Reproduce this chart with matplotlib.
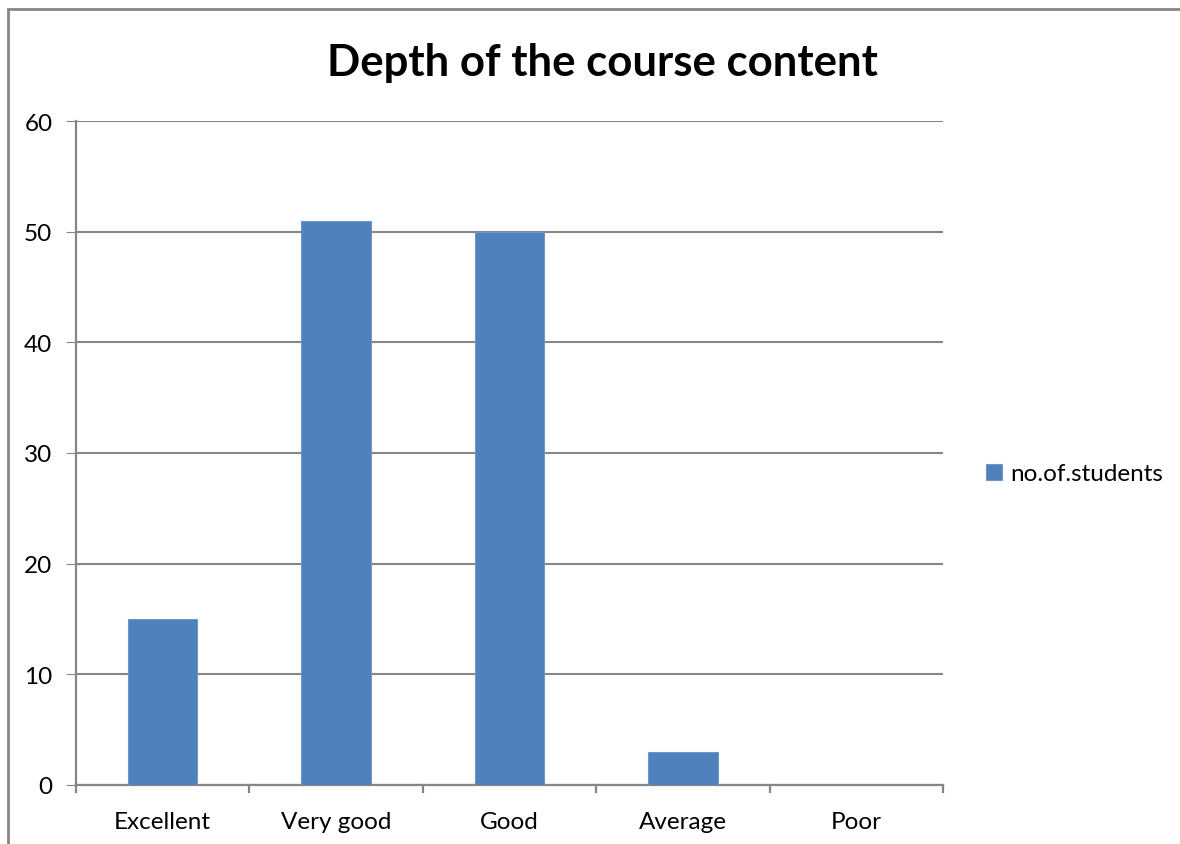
import matplotlib.pyplot as plt
from matplotlib.patches import Rectangle

categories = ["Excellent", "Very good", "Good", "Average", "Poor"]
students = [15, 51, 50, 3, 0]
series_name = "no.of.students"
yticks = [0, 10, 20, 30, 40, 50, 60]

plt.rcParams['font.family'] = ['Lato', 'DejaVu Sans']
grey = "#868686"
blue = "#4F81BD"

fig = plt.figure(figsize=(11.8, 8.45), dpi=100)
ax = fig.add_axes([76/1180, 59/845, 867/1180, 664/845])

x = list(range(len(categories)))
ax.bar(x, students, width=0.4, color=blue, edgecolor="#6f97c9", linewidth=0.8,
       label=series_name, zorder=3)

ax.set_xlim(-0.5, len(categories) - 0.5)
ax.set_ylim(0, 60)
ax.set_yticks(yticks)
ax.set_xticks(x)
ax.set_xticklabels(categories, fontsize=17.5)
ax.tick_params(axis='y', labelsize=17.5, length=7, color=grey, pad=10)
ax.tick_params(axis='x', length=0, pad=19)
# boundary ticks between categories
for b in [i - 0.5 for i in range(len(categories) + 1)]:
    ax.plot([b, b], [0, -0.6], color=grey, lw=1.6, clip_on=False, zorder=4)

ax.grid(axis='y', color=grey, lw=1.5, zorder=0)
for s in ["top", "right"]:
    ax.spines[s].set_visible(False)
for s in ["left", "bottom"]:
    ax.spines[s].set_color(grey)
    ax.spines[s].set_linewidth(1.6)

fig.text(602/1180, 1 - 63/845, "Depth of the course content", ha='center', va='center',
         fontsize=31.5, fontweight='bold')

ax.legend(loc='center left', bbox_to_anchor=(986/1180, 1 - 475/845),
          bbox_transform=fig.transFigure, frameon=False, fontsize=17.5,
          borderpad=0, borderaxespad=0,
          handlelength=0.65, handleheight=0.65, handletextpad=0.35)

fig.patches.append(Rectangle((8/1180, -0.1), 1.2, 1 - 10/845 + 0.1, transform=fig.transFigure,
                             fill=False, edgecolor=grey, lw=2))

fig.savefig("out.png", dpi=100)
